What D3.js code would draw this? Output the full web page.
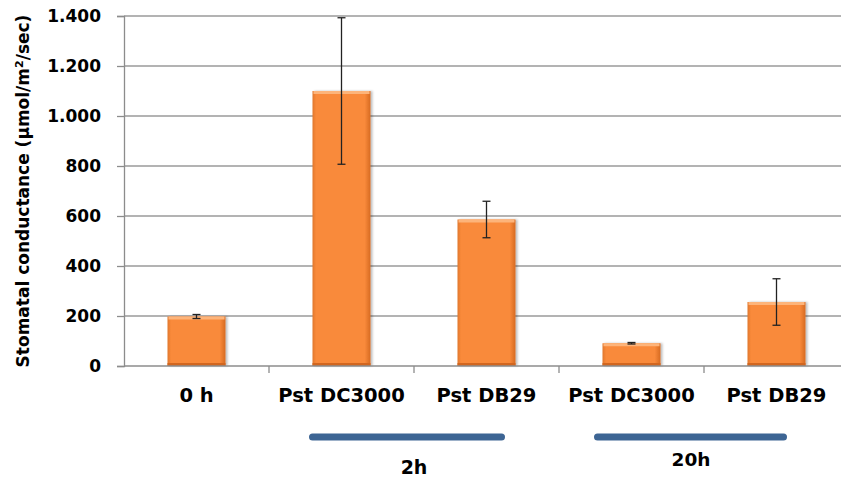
<!DOCTYPE html>
<html>
<head>
<meta charset="utf-8">
<script src="https://cdn.jsdelivr.net/npm/d3@7"></script>
<style>
  html, body { margin: 0; padding: 0; background: #fff; }
  svg { display: block; font-family: "DejaVu Sans", sans-serif; }
</style>
</head>
<body>
<svg id="chart" width="841" height="479"></svg>
<script>
// Stomatal conductance per treatment (µmol/m²/sec), mean and error
const categories = ["0 h", "Pst DC3000", "Pst DB29", "Pst DC3000", "Pst DB29"];
const means = [198, 1100, 586, 91, 256];
const errors = [8, 293, 73, 3, 93];
const yTicks = [0, 200, 400, 600, 800, 1000, 1200, 1400];
const groups = [
  { label: "2h", from: 1, to: 2 },
  { label: "20h", from: 3, to: 4 }
];

const svg = d3.select("#chart");
const x0 = 124, x1 = 849, yTop = 16, yBottom = 366;
const FONT = "'DejaVu Sans', sans-serif";

const x = d3.scaleBand().domain(d3.range(categories.length)).range([x0, x1]).padding(0);
const y = d3.scaleLinear().domain([0, 1400]).range([yBottom, yTop]);
const fmt = d => d3.format(",")(d).replace(/,/g, ".");
const center = i => x(i) + x.bandwidth() / 2;

// Bar shading
const defs = svg.append("defs");
const gh = defs.append("linearGradient").attr("id", "barH").attr("x1", 0).attr("x2", 1).attr("y1", 0).attr("y2", 0);
gh.append("stop").attr("offset", "0%").attr("stop-color", "#e0772c");
gh.append("stop").attr("offset", "6%").attr("stop-color", "#f98a3b");
gh.append("stop").attr("offset", "90%").attr("stop-color", "#f98a3b");
gh.append("stop").attr("offset", "100%").attr("stop-color", "#d66a22");
const shadow = defs.append("filter").attr("id", "shadow").attr("x", "-10%").attr("y", "-10%").attr("width", "130%").attr("height", "120%");
shadow.append("feDropShadow").attr("dx", 2).attr("dy", 0).attr("stdDeviation", 1.2).attr("flood-color", "#000").attr("flood-opacity", 0.25);

// Gridlines
svg.append("g").selectAll("line").data(yTicks.filter(d => d > 0)).join("line")
  .attr("x1", x0).attr("x2", 841)
  .attr("y1", d => y(d)).attr("y2", d => y(d))
  .attr("stroke", "#9a9a9a").attr("stroke-width", 1.3);

// Bars
const bw = x.bandwidth() * 0.4;
const bars = svg.append("g").selectAll("g").data(means).join("g");
bars.append("rect")
  .attr("x", (d, i) => center(i) - bw / 2)
  .attr("y", d => y(d))
  .attr("width", bw)
  .attr("height", d => yBottom - y(d))
  .attr("fill", "url(#barH)")
  .attr("filter", "url(#shadow)");
bars.append("rect")
  .attr("x", (d, i) => center(i) - bw / 2 + 1)
  .attr("y", d => y(d))
  .attr("width", bw - 2)
  .attr("height", 3)
  .attr("fill", "#fdb47a");
bars.append("rect")
  .attr("x", (d, i) => center(i) - bw / 2)
  .attr("y", yBottom - 3)
  .attr("width", bw)
  .attr("height", 3)
  .attr("fill", "#d2661f");

// Error bars
const eb = svg.append("g").attr("stroke", "#222").attr("stroke-width", 1.3);
means.forEach((m, i) => {
  const cx = center(i);
  const hi = y(m + errors[i]), lo = y(m - errors[i]);
  eb.append("line").attr("x1", cx).attr("x2", cx).attr("y1", hi).attr("y2", lo);
  eb.append("line").attr("x1", cx - 4).attr("x2", cx + 4).attr("y1", hi).attr("y2", hi);
  eb.append("line").attr("x1", cx - 4).attr("x2", cx + 4).attr("y1", lo).attr("y2", lo);
});

// Y axis
const yAxis = svg.append("g").attr("transform", `translate(${x0},0)`)
  .call(d3.axisLeft(y).tickValues(yTicks).tickFormat(fmt).tickSize(7).tickPadding(16));
yAxis.select(".domain").attr("stroke", "#8c8c8c").attr("stroke-width", 1.3);
yAxis.selectAll(".tick line").attr("stroke", "#8c8c8c").attr("stroke-width", 1.3);
yAxis.selectAll(".tick text").attr("font-size", 17).attr("font-weight", "bold").attr("fill", "#000")
  .attr("font-family", FONT);

// X axis
svg.append("line").attr("x1", x0).attr("x2", 841).attr("y1", yBottom).attr("y2", yBottom)
  .attr("stroke", "#8c8c8c").attr("stroke-width", 1.5);
svg.append("g").selectAll("line").data(d3.range(1, categories.length)).join("line")
  .attr("x1", d => x(d)).attr("x2", d => x(d))
  .attr("y1", yBottom).attr("y2", yBottom + 7)
  .attr("stroke", "#8c8c8c").attr("stroke-width", 1.3);
svg.append("g").selectAll("text").data(categories).join("text")
  .attr("x", (d, i) => center(i))
  .attr("y", 402)
  .attr("text-anchor", "middle")
  .attr("font-size", 19.5).attr("font-weight", "bold")
  .text(d => d);

// Y axis title
svg.append("text")
  .attr("transform", "translate(29,191) rotate(-90)")
  .attr("text-anchor", "middle")
  .attr("font-size", 17).attr("font-weight", "bold")
  .html("Stomatal conductance (µmol/m<tspan dy='-6' font-size='11'>2</tspan><tspan dy='6'>/sec)</tspan>");

// Time-point group brackets
const barEnds = [[-29, 15], [-34, 7]];
const labelPos = [{ dx: 0, y: 474, size: 19 }, { dx: -13, y: 466, size: 18.5 }];
groups.forEach((g, k) => {
  svg.append("line")
    .attr("x1", center(g.from) + barEnds[k][0]).attr("x2", center(g.to) + barEnds[k][1])
    .attr("y1", 437).attr("y2", 437)
    .attr("stroke", "#3d6594").attr("stroke-width", 7).attr("stroke-linecap", "round");
  svg.append("text")
    .attr("x", x(g.from) + x.bandwidth() + labelPos[k].dx)
    .attr("y", labelPos[k].y)
    .attr("text-anchor", "middle")
    .attr("font-size", labelPos[k].size).attr("font-weight", "bold")
    .text(g.label);
});
</script>
</body>
</html>
